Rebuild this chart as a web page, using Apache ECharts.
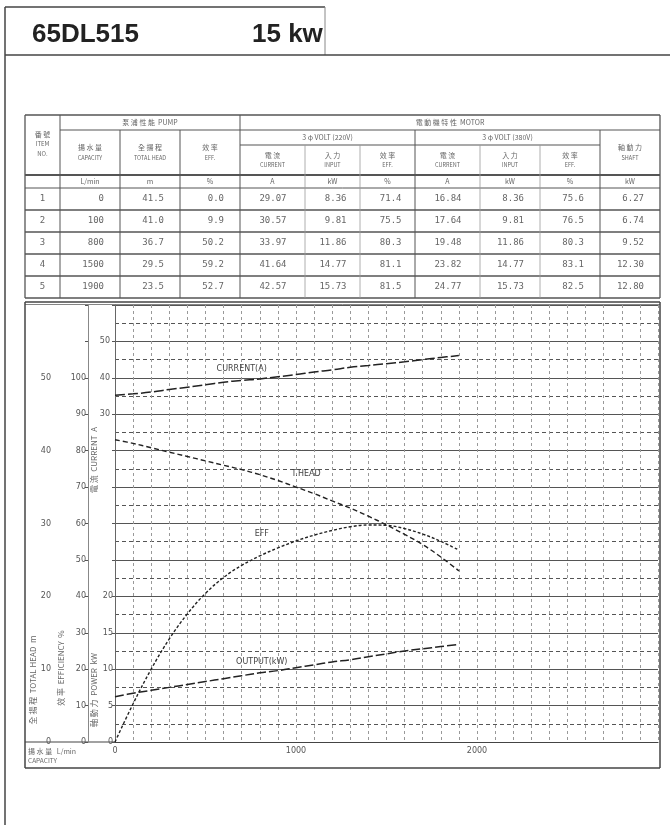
<!DOCTYPE html>
<html>
<head>
<meta charset="UTF-8">
<title>65DL515</title>
<style>
  html, body { margin: 0; padding: 0; background: #fff; }
  #main { width: 670px; height: 825px; }
</style>
<script src="https://cdn.jsdelivr.net/npm/echarts@6/dist/echarts.min.js"></script>
</head>
<body>
<div id="main"></div>
<script>
// curve data (flow in L/min)
var flow    = [0, 100, 200, 300, 400, 500, 600, 700, 800, 900, 1000, 1100, 1200, 1300, 1400, 1500, 1600, 1700, 1800, 1900];
var head    = [41.5, 41.0, 40.4, 39.8, 39.2, 38.6, 38.0, 37.4, 36.7, 35.9, 35.0, 34.1, 33.1, 32.1, 31.0, 29.8, 28.5, 27.1, 25.4, 23.5];
var eff     = [0, 10.5, 20, 28.3, 35.2, 40.8, 45.2, 48.5, 51.1, 53.3, 55.2, 56.8, 58.1, 59.1, 59.6, 59.5, 58.6, 57.1, 55.1, 52.7];
var power   = [6.2, 6.7, 7.1, 7.5, 7.9, 8.3, 8.7, 9.1, 9.5, 9.8, 10.2, 10.6, 11.0, 11.3, 11.7, 12.1, 12.5, 12.8, 13.1, 13.4];
var current = [35.2, 35.6, 36.1, 36.8, 37.4, 38.1, 38.8, 39.3, 39.7, 40.3, 40.9, 41.6, 42.2, 42.9, 43.4, 43.9, 44.4, 45.0, 45.6, 46.1];

// performance table
var colNames = [
  ['揚 水 量', 'CAPACITY'], ['全 揚 程', 'TOTAL HEAD'], ['效 率', 'EFF.'],
  ['電 流', 'CURRENT'], ['入 力', 'INPUT'], ['效 率', 'EFF.'],
  ['電 流', 'CURRENT'], ['入 力', 'INPUT'], ['效 率', 'EFF.'],
  ['軸 動 力', 'SHAFT']
];
var units = ['L/min', 'm', '%', 'A', 'kW', '%', 'A', 'kW', '%', 'kW'];
var rowNo = ['1', '2', '3', '4', '5'];
var tableRows = [
  ['0',    '41.5', '0.0',  '29.07', '8.36',  '71.4', '16.84', '8.36',  '75.6', '6.27'],
  ['100',  '41.0', '9.9',  '30.57', '9.81',  '75.5', '17.64', '9.81',  '76.5', '6.74'],
  ['800',  '36.7', '50.2', '33.97', '11.86', '80.3', '19.48', '11.86', '80.3', '9.52'],
  ['1500', '29.5', '59.2', '41.64', '14.77', '81.1', '23.82', '14.77', '83.1', '12.30'],
  ['1900', '23.5', '52.7', '42.57', '15.73', '81.5', '24.77', '15.73', '82.5', '12.80']
];

var chart = echarts.init(document.getElementById('main'));

var els = [];
function ln(x1, y1, x2, y2, w, c) {
  els.push({ type: 'line', silent: true, shape: { x1: x1, y1: y1, x2: x2, y2: y2 },
    style: { stroke: c || '#555', lineWidth: w || 1 } });
}
function tx(t, x, y, font, align, fill, rot) {
  els.push({ type: 'text', silent: true, x: x, y: y, rotation: rot || 0,
    style: { text: t, font: font, fill: fill || '#666', textAlign: align || 'center', textVerticalAlign: 'middle' } });
}

// page frame and title
ln(5, 7, 5, 825, 1.5, '#444');
ln(5, 7, 325, 7, 1.5, '#444');
ln(325, 7, 325, 55, 1, '#888');
ln(5, 55, 670, 55, 1.5, '#444');
tx('65DL515', 32, 35, 'bold 26px "Liberation Sans", Arial, sans-serif', 'left', '#222');
tx('15 kw', 252, 35, 'bold 26px "Liberation Sans", Arial, sans-serif', 'left', '#222');

// table
var TX = [25, 60, 120, 180, 240, 305, 360, 415, 480, 540, 600, 660];
var cjk = '"Noto Sans CJK TC", "DejaVu Sans", sans-serif';
ln(25, 115, 660, 115, 1.3);
ln(25, 298, 660, 298, 1.3);
ln(25, 115, 25, 298, 1.3);
ln(660, 115, 660, 298, 1.3);
ln(60, 130, 660, 130);
ln(240, 145, 600, 145, 1.2);
ln(25, 175, 660, 175, 1.8);
ln(25, 188, 660, 188);
for (var r = 1; r < rowNo.length; r++) ln(25, 188 + 22 * r, 660, 188 + 22 * r, 1.4);
ln(60, 115, 60, 298);
ln(240, 115, 240, 298);
[120, 180, 415, 600].forEach(function (x) { ln(x, 130, x, 298); });
[305, 360, 480, 540].forEach(function (x) { ln(x, 145, x, 298, 0.8, '#999'); });

tx('番 號', 42.5, 134, '7px ' + cjk);
tx('ITEM', 42.5, 144, '6px ' + cjk);
tx('NO.', 42.5, 154, '6px ' + cjk);
tx('泵 浦 性 能  PUMP', 150, 122.5, '7px ' + cjk);
tx('電 動 機 特 性  MOTOR', 450, 122.5, '7px ' + cjk);
tx('3 φ VOLT (220V)', 327.5, 137.5, '7px ' + cjk);
tx('3 φ VOLT (380V)', 507.5, 137.5, '7px ' + cjk);
colNames.forEach(function (n, j) {
  var cx = (TX[j + 1] + TX[j + 2]) / 2;
  var top = (j < 3 || j === 9) ? 130 : 145;
  var cy = (top + 175) / 2;
  tx(n[0], cx, cy - 5, '7px ' + cjk);
  tx(n[1], cx, cy + 5, '5.5px ' + cjk);
  tx(units[j], cx, 181.5, '7px ' + cjk);
});
tableRows.forEach(function (row, i) {
  var cy = 199 + 22 * i;
  tx(rowNo[i], 42.5, cy, '9px "DejaVu Sans Mono", monospace');
  row.forEach(function (v, j) {
    tx(v, (TX[j + 1] + TX[j + 2]) / 2 + 14, cy, '9px "DejaVu Sans Mono", monospace', 'right');
  });
});

// chart frame
ln(25, 302, 660, 302, 1.5, '#444');
ln(25, 304.5, 660, 304.5, 0.8, '#666');
ln(25, 302, 25, 768, 1.5, '#444');
ln(660, 302, 660, 768, 1.5, '#444');
ln(25, 768, 660, 768, 1.5, '#444');
ln(25, 742, 115, 742, 1.2, '#444');
tx('全 揚 程  TOTAL HEAD  m', 33, 680, '8px ' + cjk, 'center', '#666', Math.PI / 2);
tx('效 率  EFFICIENCY  %', 61, 668, '8px ' + cjk, 'center', '#666', Math.PI / 2);
tx('軸 動 力  POWER  kW', 94, 690, '8px ' + cjk, 'center', '#666', Math.PI / 2);
tx('電 流  CURRENT  A', 94, 460, '8px ' + cjk, 'center', '#666', Math.PI / 2);
tx('揚 水 量   L/min', 28, 751, '7px ' + cjk, 'left');
tx('CAPACITY', 28, 761, '6.5px ' + cjk, 'left');

function pts(arr) { return flow.map(function (q, i) { return [q, arr[i]]; }); }
function tag(text, i, arr, dist, dx) {
  return {
    symbol: 'circle', symbolSize: 0, silent: true,
    label: { show: true, position: 'top', distance: dist, offset: [dx || 0, 0], formatter: text,
      fontSize: 8, color: '#444', fontFamily: 'DejaVu Sans' },
    data: [{ coord: [flow[i], arr[i]] }]
  };
}
var lab = { fontSize: 8, color: '#555', fontFamily: 'DejaVu Sans' };

chart.setOption({
  animation: false,
  backgroundColor: '#fff',
  graphic: els,
  grid: { left: 115, right: 12, top: 305, bottom: 83, containLabel: false, outerBoundsMode: 'none' },
  xAxis: {
    type: 'value', min: 0, max: 3000, interval: 100,
    axisLine: { show: true, lineStyle: { color: '#444', width: 1.2 } },
    axisTick: { show: false },
    axisLabel: Object.assign({ margin: 5, formatter: function (v) { return v % 1000 === 0 && v < 3000 ? v : ''; } }, lab),
    splitLine: { show: true, lineStyle: { color: '#999', width: 1, type: [3, 3] } }
  },
  yAxis: [
    {
      type: 'value', min: 0, max: 60, interval: 5, position: 'left', offset: 58,
      axisLine: { show: true, lineStyle: { color: '#888' } },
      axisTick: { show: false },
      axisLabel: Object.assign({ margin: 6, formatter: function (v) { return v % 10 === 0 && v <= 50 ? v : ''; } }, lab),
      splitLine: { show: true, lineStyle: { color: '#555', width: 1.1 } },
      minorTick: { show: false, splitNumber: 2 },
      minorSplitLine: { show: true, lineStyle: { color: '#555', width: 1, type: [4, 3] } }
    },
    {
      type: 'value', min: 0, max: 120, interval: 10, position: 'left', offset: 27,
      axisLine: { show: true, lineStyle: { color: '#888' } },
      axisTick: { show: true, length: 3, lineStyle: { color: '#555' } },
      axisLabel: Object.assign({ margin: 2, formatter: function (v) { return v <= 100 ? v : ''; } }, lab),
      splitLine: { show: false }
    },
    {
      type: 'value', min: 0, max: 60, interval: 5, position: 'left', offset: 0,
      axisLine: { show: true, lineStyle: { color: '#666' } },
      axisTick: { show: true, length: 3, lineStyle: { color: '#555' } },
      axisLabel: Object.assign({ margin: 2, formatter: function (v) { return v <= 20 ? v : ''; } }, lab),
      splitLine: { show: false }
    },
    {
      type: 'value', min: -60, max: 60, interval: 10, position: 'left', offset: 0,
      axisLine: { show: false },
      axisTick: { show: false },
      axisLabel: Object.assign({ margin: 5, formatter: function (v) { return v >= 30 && v <= 50 ? v : ''; } }, lab),
      splitLine: { show: false }
    }
  ],
  series: [
    { name: 'head', type: 'line', yAxisIndex: 0, smooth: 0.4, showSymbol: false, data: pts(head),
      lineStyle: { color: '#222', width: 1.4, type: [5, 3] }, markPoint: tag('T.HEAD', 10, head, 9, 10) },
    { name: 'eff', type: 'line', yAxisIndex: 1, smooth: 0.4, showSymbol: false, data: pts(eff),
      lineStyle: { color: '#222', width: 1.4, type: [3, 2] }, markPoint: tag('EFF', 8, eff, 18, 2) },
    { name: 'power', type: 'line', yAxisIndex: 2, smooth: 0.4, showSymbol: false, data: pts(power),
      lineStyle: { color: '#222', width: 1.5, type: [9, 3] }, markPoint: tag('OUTPUT(kW)', 8, power, 7, 2) },
    { name: 'current', type: 'line', yAxisIndex: 3, smooth: 0.4, showSymbol: false, data: pts(current),
      lineStyle: { color: '#222', width: 1.5, type: [10, 3] }, markPoint: tag('CURRENT(A)', 7, current, 7, 0) }
  ]
});
</script>
</body>
</html>
